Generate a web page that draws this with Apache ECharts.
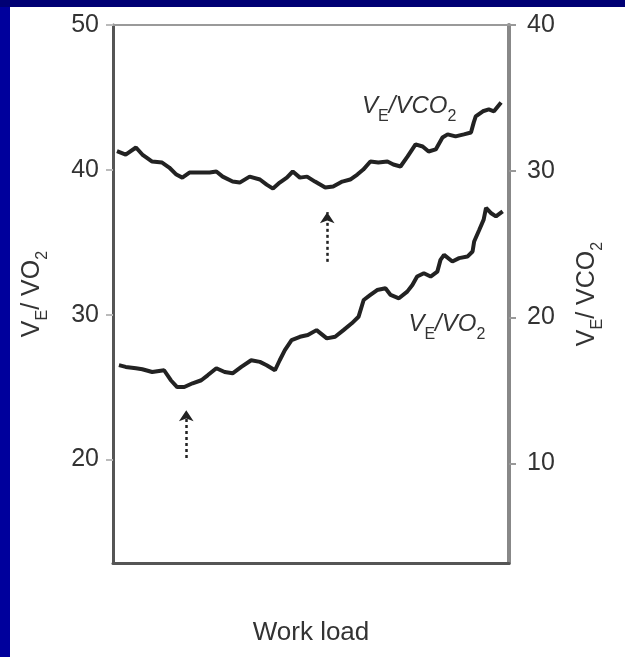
<!DOCTYPE html>
<html>
<head>
<meta charset="utf-8">
<script src="https://cdn.jsdelivr.net/npm/echarts@6/dist/echarts.min.js"></script>
<style>
  html, body { margin: 0; padding: 0; width: 625px; height: 657px; overflow: hidden; background: #00009c; }
  #band { position: absolute; left: 0; top: 0; width: 625px; height: 7px; background: #000074; }
  #panel { position: absolute; left: 10px; top: 7px; right: 0; bottom: 0; background: #ffffff; }
  #chart { position: absolute; left: 0; top: 0; width: 625px; height: 657px; }
</style>
</head>
<body>
<div id="band"></div>
<div id="panel"></div>
<div id="chart"></div>
<script>
// Ventilatory equivalents during an incremental test (work load in % of test, unlabelled axis)
const loadO2 = [1.5, 3.2, 5.8, 7.4, 9.9, 12.9, 14.6, 16.2, 18.0, 20.1, 22.3, 23.9, 26.1, 28.2, 30.2,
  32.4, 34.9, 37.1, 38.8, 40.9, 42.1, 43.4, 45.1, 47.2, 49.2, 51.4, 54.0, 56.1, 58.2, 60.3,
  62.0, 63.3, 65.0, 66.7, 68.8, 70.1, 72.2, 74.3, 75.6, 76.8, 78.5, 80.2, 81.9, 82.7, 83.6,
  85.7, 87.4, 89.5, 90.8, 91.2, 92.5, 93.6, 94.2, 95.4, 96.7, 98.4];
const veVo2 = [26.51, 26.39, 26.30, 26.23, 26.04, 26.16, 25.47, 25.00, 25.00, 25.26, 25.47, 25.81, 26.30, 26.04, 25.95,
  26.39, 26.85, 26.74, 26.51, 26.16, 26.85, 27.55, 28.24, 28.47, 28.59, 28.93, 28.36, 28.47, 28.93, 29.40,
  29.85, 31.01, 31.36, 31.70, 31.82, 31.36, 31.13, 31.59, 32.05, 32.63, 32.86, 32.63, 32.97, 33.78, 34.13,
  33.67, 33.90, 34.01, 34.36, 35.05, 35.86, 36.56, 37.37, 37.02, 36.78, 37.13];

const loadCO2 = [1.0, 3.2, 5.8, 7.4, 9.9, 12.4, 14.2, 16.0, 17.5, 19.3, 21.8, 24.4, 26.1, 27.7, 30.2,
  32.0, 34.5, 37.1, 38.8, 40.4, 42.1, 43.9, 45.4, 47.2, 49.0, 51.0, 53.6, 55.6, 57.9, 59.9,
  61.7, 63.2, 65.0, 67.0, 69.3, 70.8, 72.6, 74.4, 76.4, 78.2, 79.7, 81.5, 83.2, 84.5, 86.5,
  88.6, 90.4, 91.1, 91.6, 93.4, 94.9, 96.2, 98.0];
const veVco2 = [31.37, 31.14, 31.62, 31.14, 30.66, 30.59, 30.25, 29.77, 29.56, 29.91, 29.91, 29.91, 29.98, 29.63, 29.29,
  29.22, 29.63, 29.43, 29.08, 28.81, 29.22, 29.56, 29.98, 29.56, 29.63, 29.29, 28.88, 28.95, 29.29, 29.43,
  29.77, 30.11, 30.66, 30.59, 30.66, 30.46, 30.32, 31.01, 31.83, 31.69, 31.35, 31.49, 32.31, 32.52, 32.38,
  32.52, 32.65, 33.34, 33.75, 34.10, 34.23, 34.10, 34.70];

// Tick labels of the two ratio axes
const leftTicks = [20, 30, 40, 50];
const rightTicks = [10, 20, 30, 40];

// Threshold arrows: [work load, arrow tail, arrow tip] in each axis' units
const arrowO2 = [18.5, 20.1, 23.4];
const arrowCO2 = [54.1, 23.8, 27.2];

// Curve label anchors: [work load, ratio]
const labelO2 = [74.6, 29.1];
const labelCO2 = [62.9, 34.2];

const FONT = 'Liberation Sans';
const INK = '#333333';

function pairs(xs, ys) { return xs.map((x, i) => [x, ys[i]]); }

// Rich styles for ratio text with subscripts dropped below the baseline
function ratioRich(main, sub, subLow) {
  return {
    v: { fontFamily: FONT, fontSize: main, lineHeight: main, verticalAlign: 'top', color: INK, fontStyle: 'italic' },
    t: { fontFamily: FONT, fontSize: main, lineHeight: main, verticalAlign: 'top', color: INK },
    s: { fontFamily: FONT, fontSize: sub, lineHeight: main + subLow, verticalAlign: 'bottom', color: INK }
  };
}

function arrowLine(a) {
  return {
    silent: true,
    symbol: ['none', 'arrow'],
    symbolSize: 11,
    itemStyle: { color: '#222' },
    lineStyle: { type: [3, 3], color: '#222', width: 2.5, opacity: 1 },
    label: { show: false },
    emphasis: { disabled: true },
    data: [[{ coord: [a[0], a[1]] }, { coord: [a[0], a[2]] }]]
  };
}

function curveLabel(pos, text) {
  return {
    silent: true,
    symbol: 'circle',
    symbolSize: 0,
    itemStyle: { color: 'transparent' },
    label: {
      show: true, position: 'right', distance: 0,
      formatter: text,
      rich: ratioRich(24, 16, 6)
    },
    data: [{ coord: pos }]
  };
}

const chart = echarts.init(document.getElementById('chart'), null, { renderer: 'canvas' });

const tickLabelStyle = { fontFamily: FONT, fontSize: 25, color: INK };

chart.setOption({
  animation: false,
  backgroundColor: 'transparent',
  grid: { left: 113, right: 116, top: 25, bottom: 94 },
  xAxis: [
    {
      type: 'value', position: 'bottom', min: 0, max: 100,
      axisLine: { show: true, onZero: false, lineStyle: { color: '#555', width: 3 } },
      axisTick: { show: false }, axisLabel: { show: false }, splitLine: { show: false },
      name: 'Work load', nameLocation: 'middle', nameGap: 57,
      nameTextStyle: { fontFamily: FONT, fontSize: 26, color: INK }
    },
    {
      type: 'value', position: 'top', min: 0, max: 100,
      axisLine: { show: true, onZero: false, lineStyle: { color: '#9a9a9a', width: 2 } },
      axisTick: { show: false }, axisLabel: { show: false }, splitLine: { show: false }
    }
  ],
  yAxis: [
    {
      type: 'value', position: 'left', min: 12.85, max: 50,
      axisLine: { show: true, onZero: false, lineStyle: { color: '#555', width: 3 } },
      axisTick: { show: true, length: 7, customValues: leftTicks, lineStyle: { color: '#bbb', width: 2 } },
      axisLabel: Object.assign({ margin: 14, customValues: leftTicks }, tickLabelStyle),
      splitLine: { show: false },
      name: '{t|V}{s|E}{t|/ VO}{s|2}', nameLocation: 'middle', nameRotate: 90, nameGap: 62,
      nameTextStyle: { rich: ratioRich(25, 16, 6) }
    },
    {
      type: 'value', position: 'right', min: 3.2, max: 40,
      axisLine: { show: true, onZero: false, lineStyle: { color: '#888', width: 4 } },
      axisTick: { show: true, length: 7, customValues: rightTicks, lineStyle: { color: '#999', width: 2 } },
      axisLabel: Object.assign({ margin: 18, customValues: rightTicks }, tickLabelStyle),
      splitLine: { show: false },
      name: '{t|V}{s|E}{t|/ VCO}{s|2}', nameLocation: 'middle', nameRotate: 90, nameGap: 66,
      nameTextStyle: { rich: ratioRich(25, 16, 6) }
    }
  ],
  series: [
    {
      name: 'VE/VO2', type: 'line', xAxisIndex: 0, yAxisIndex: 0,
      data: pairs(loadO2, veVo2),
      showSymbol: false, smooth: false,
      lineStyle: { color: '#222', width: 4 },
      emphasis: { disabled: true },
      markLine: arrowLine(arrowO2),
      markPoint: curveLabel(labelO2, '{v|V}{s|E}{v|/VO}{s|2}')
    },
    {
      name: 'VE/VCO2', type: 'line', xAxisIndex: 0, yAxisIndex: 1,
      data: pairs(loadCO2, veVco2),
      showSymbol: false, smooth: false,
      lineStyle: { color: '#222', width: 4 },
      emphasis: { disabled: true },
      markLine: arrowLine(arrowCO2),
      markPoint: curveLabel(labelCO2, '{v|V}{s|E}{v|/VCO}{s|2}')
    }
  ]
});
</script>
</body>
</html>
